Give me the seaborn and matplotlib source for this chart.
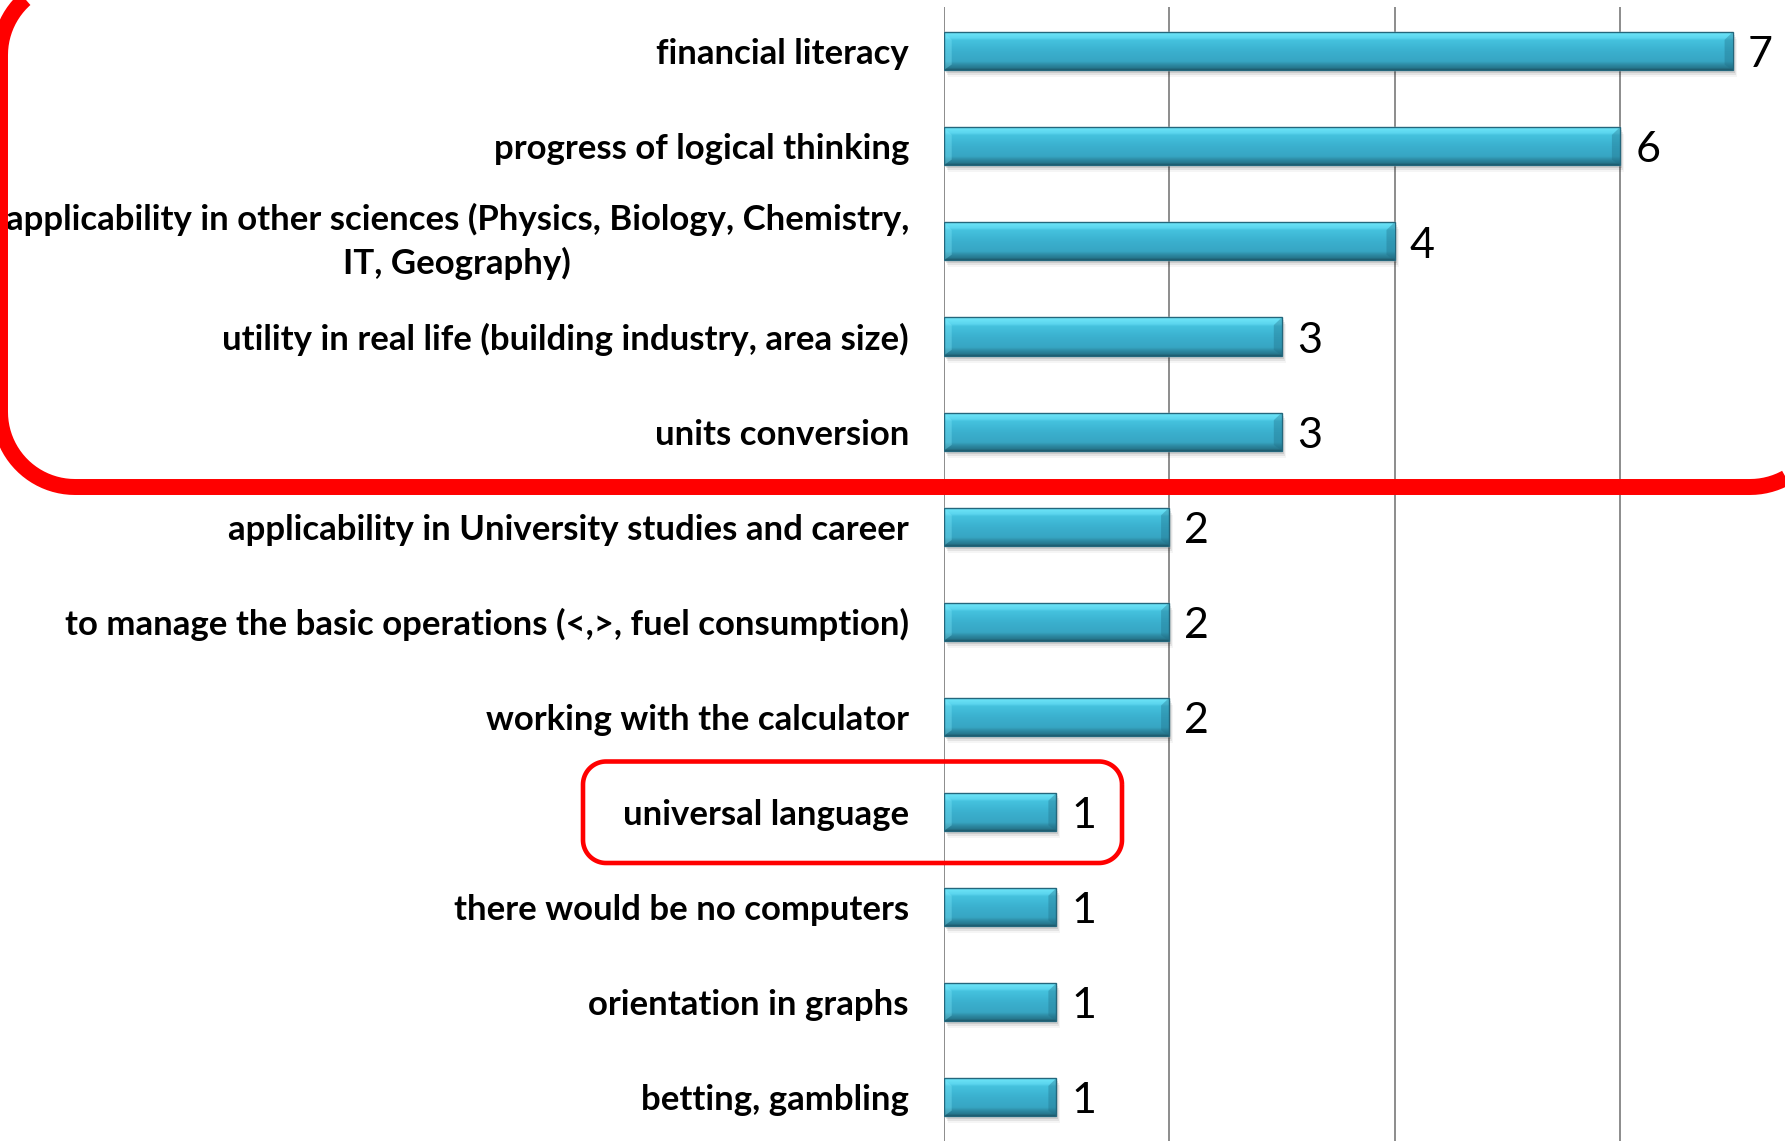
import numpy as np
import pandas as pd
import seaborn as sns
import matplotlib.pyplot as plt
from matplotlib.patches import PathPatch, Polygon, Rectangle
from matplotlib.path import Path
from matplotlib.colors import to_rgb
from matplotlib.transforms import IdentityTransform, offset_copy

# answers and how many respondents gave them
reasons = [
    "financial literacy",
    "progress of logical thinking",
    "applicability in other sciences (Physics, Biology, Chemistry,\nIT, Geography)",
    "utility in real life (building industry, area size)",
    "units conversion",
    "applicability in University studies and career",
    "to manage the basic operations (<,>, fuel consumption)",
    "working with the calculator",
    "universal language",
    "there would be no computers",
    "orientation in graphs",
    "betting, gambling",
]
counts = [7, 6, 4, 3, 3, 2, 2, 2, 1, 1, 1, 1]

W, H = 1785, 1141
X0 = 943.7      # pixel position of the value axis origin
UNIT = 112.7    # pixels per count
ROW = 95.1      # pixels per category


def rounded_rect(x0, y0, x1, y1, r, n=24):
    """Closed polyline of a rounded rectangle (pixel coords)."""
    pts = []
    corners = [(x1 - r, y1 - r, 0), (x0 + r, y1 - r, 90),
               (x0 + r, y0 + r, 180), (x1 - r, y0 + r, 270)]
    for cx, cy, a0 in corners:
        t = np.radians(np.linspace(a0, a0 + 90, n))
        pts.extend(zip(cx + r * np.cos(t), cy + r * np.sin(t)))
    pts.append(pts[0])
    return Path(pts)


sns.set_theme(style="white")
plt.rcParams["font.family"] = ["Lato", "DejaVu Sans"]

df = pd.DataFrame({"reason": reasons, "count": counts})

fig = plt.figure(figsize=(W / 100, H / 100), dpi=100)
ax = fig.add_axes([X0 / W, 0, 1 - X0 / W, (H - 6.8) / H])

sns.barplot(data=df, x="count", y="reason", orient="h", color="#3AAFCC",
            width=0.4, ax=ax, zorder=2)

xlim = (0, (W - X0) / UNIT)
ylim = ((H - 51.2) / ROW, -0.467)
ax.set_xticks([0, 2, 4, 6])
ax.xaxis.grid(True, color="#8C8C8C", linewidth=1.4, zorder=0)
ax.set_axisbelow(True)
ax.set_xticklabels([])
ax.set_xlabel("")
ax.set_ylabel("")
for s in ax.spines.values():
    s.set_visible(False)
ax.tick_params(axis="y", length=0, pad=25, labelsize=25)
ax.tick_params(axis="x", length=0)
for lab in ax.get_yticklabels():
    lab.set_fontweight("bold")
    lab.set_color("black")
    if "\n" in lab.get_text():
        lab.set_multialignment("center")
        lab.set_linespacing(1.42)
        lab.set_verticalalignment("center")

# glossy bevelled look on each bar, plus a soft shadow
pos = [0.0, 0.04, 0.18, 0.23, 0.5, 0.78, 0.85, 0.95, 1.0]
cols = ["#8FF6FF", "#6DE4F8", "#5AD5EE", "#45C2DE", "#3BB1CF", "#37A6C3",
        "#2F8FA9", "#27778D", "#1D5668"]
rgb = np.array([to_rgb(c) for c in cols])
tt = np.linspace(0, 1, 120)
grad = np.stack([np.interp(tt, pos, rgb[:, k]) for k in range(3)], axis=1)[:, None, :]
bev = 8 / UNIT
for p in list(ax.patches):
    x, y, w, h = p.get_x(), p.get_y(), p.get_width(), p.get_height()
    for k, a in enumerate([0.10, 0.07, 0.04]):
        sh = Rectangle((x, y), w, h, facecolor="#000000", alpha=a, edgecolor="none",
                       zorder=1.5,
                       transform=offset_copy(ax.transData, fig=fig, x=2 + k, y=-(3 + 2 * k),
                                             units="dots"))
        ax.add_patch(sh)
    im = ax.imshow(grad, extent=[x, x + w, y + h, y], aspect="auto",
                   interpolation="bilinear", zorder=2.5)
    im.set_clip_path(p)
    ax.add_patch(Polygon([(x, y), (x + bev, y + 0.2 * h), (x + bev, y + 0.85 * h), (x, y + h)],
                         closed=True, facecolor="#7FE8FA", alpha=0.35, edgecolor="none", zorder=2.7))
    ax.add_patch(Polygon([(x + w, y), (x + w - bev, y + 0.2 * h), (x + w - bev, y + 0.85 * h),
                          (x + w, y + h)],
                         closed=True, facecolor="#1F6D85", alpha=0.35, edgecolor="none", zorder=2.7))
    ax.add_patch(Rectangle((x, y), w, h, facecolor="none",
                           edgecolor="#24677C", linewidth=1.0, zorder=3))

ax.set_xlim(*xlim)
ax.set_ylim(*ylim)

for i, v in enumerate(counts):
    ax.annotate(str(v), (v, i), xytext=(11, -3), textcoords="offset points",
                ha="left", va="center", fontsize=31, color="black",
                annotation_clip=False)

# red highlight boxes (pixel coordinates, y from bottom)
big = PathPatch(rounded_rect(0, H - 487, 1825, H + 20, 75), facecolor="none",
                edgecolor="#FF0000", linewidth=11.5, transform=IdentityTransform(),
                clip_on=False)
small = PathPatch(rounded_rect(583, H - 863, 1122, H - 761.5, 23), facecolor="none",
                  edgecolor="#FF0000", linewidth=3.3, transform=IdentityTransform(),
                  clip_on=False)
fig.patches.extend([big, small])

fig.savefig("out.png", dpi=100)
